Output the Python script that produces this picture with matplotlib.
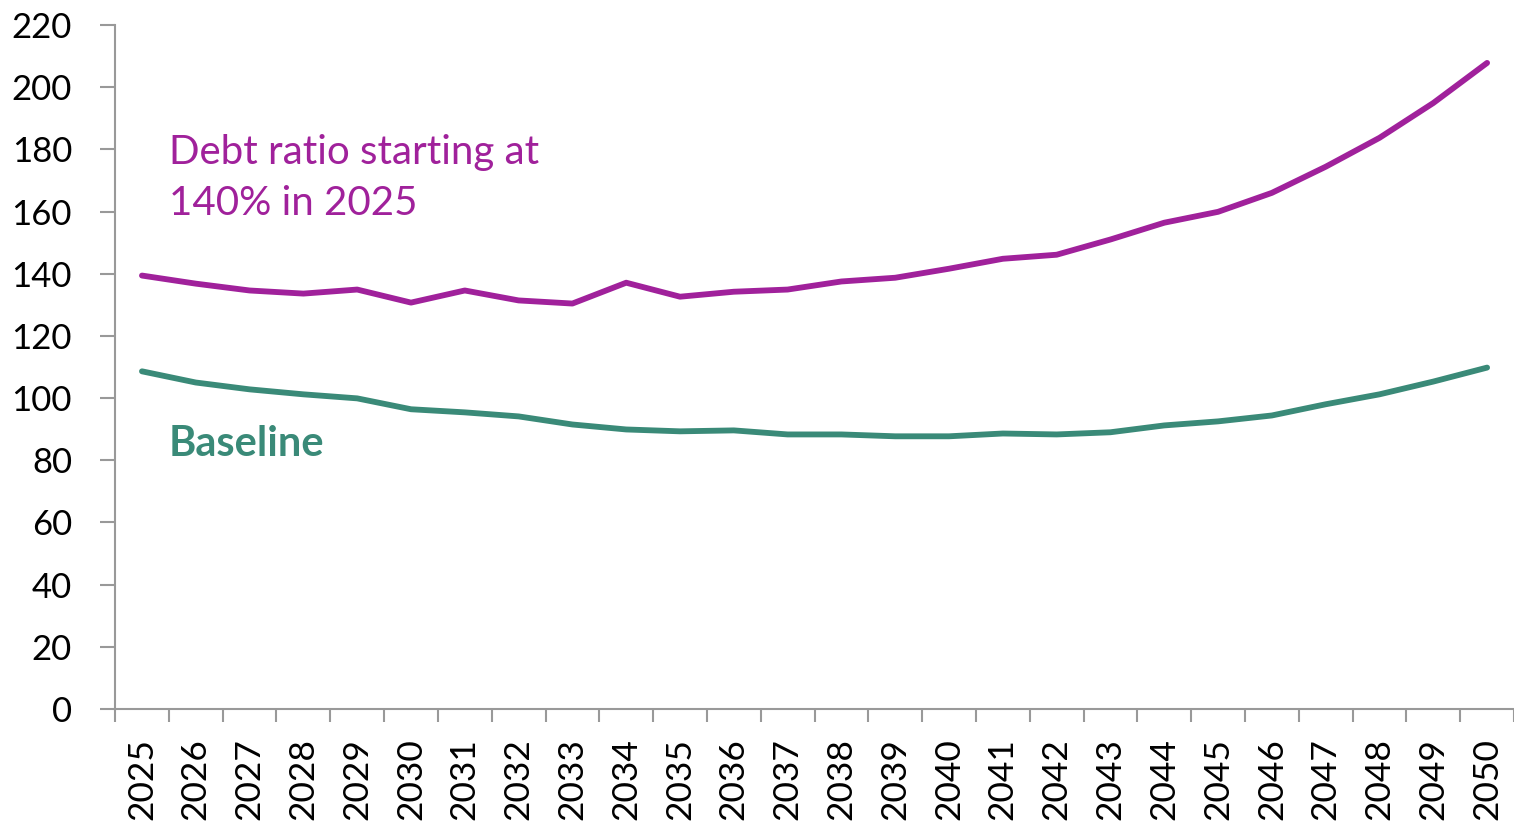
import matplotlib.pyplot as plt

# ---------- Data ----------
years = [str(y) for y in range(2025, 2051)]
high_debt = [139.4, 136.8, 134.6, 133.6, 134.9, 130.7, 134.6, 131.4, 130.4, 137.1,
             132.6, 134.2, 134.9, 137.5, 138.7, 141.6, 144.8, 146.1, 151.0, 156.4,
             159.9, 166.0, 174.4, 183.7, 194.9, 207.8]
baseline = [108.6, 105.0, 102.8, 101.2, 99.9, 96.4, 95.4, 94.1, 91.5, 89.9,
            89.3, 89.6, 88.3, 88.3, 87.7, 87.7, 88.6, 88.3, 89.0, 91.2,
            92.5, 94.4, 98.0, 101.2, 105.3, 109.8]
y_ticks = list(range(0, 221, 20))

purple = "#A0219B"
green = "#3A8A78"
axis_grey = "#999999"

plt.rcParams["font.family"] = ["Lato", "DejaVu Sans"]

# ---------- Plot ----------
fig = plt.figure(figsize=(15.14, 8.24), dpi=100)
ax = fig.add_axes([0.076, 0.1396, 0.924, 0.8301])

x = list(range(len(years)))
ax.plot(x, high_debt, color=purple, linewidth=4.2, solid_capstyle="round",
        solid_joinstyle="round")
ax.plot(x, baseline, color=green, linewidth=4.2, solid_capstyle="round",
        solid_joinstyle="round")

ax.set_xlim(-0.5, len(years) - 0.5)
ax.set_ylim(0, 220)
ax.set_yticks(y_ticks)
ax.set_yticklabels([str(v) for v in y_ticks])

# category axis: labels at centres, ticks at boundaries
ax.set_xticks(x)
ax.set_xticklabels(years, rotation=90)
ax.set_xticks([i - 0.5 for i in range(len(years) + 1)], minor=True)
ax.tick_params(axis="x", which="major", length=0, pad=21, labelsize=25.5)
ax.tick_params(axis="x", which="minor", length=9, width=1.5, color=axis_grey)
ax.tick_params(axis="y", length=11, width=1.5, color=axis_grey, pad=20, labelsize=25)

for side in ["top", "right"]:
    ax.spines[side].set_visible(False)
for side in ["left", "bottom"]:
    ax.spines[side].set_color(axis_grey)
    ax.spines[side].set_linewidth(1.5)

ax.text(0.5, 170.8, "Debt ratio starting at\n140% in 2025", color=purple,
        fontsize=29, va="center", ha="left", linespacing=1.45)
ax.text(0.5, 85.2, "Baseline", color=green, fontsize=30, fontweight="bold",
        va="center", ha="left")

plt.savefig("out.png", dpi=100)
